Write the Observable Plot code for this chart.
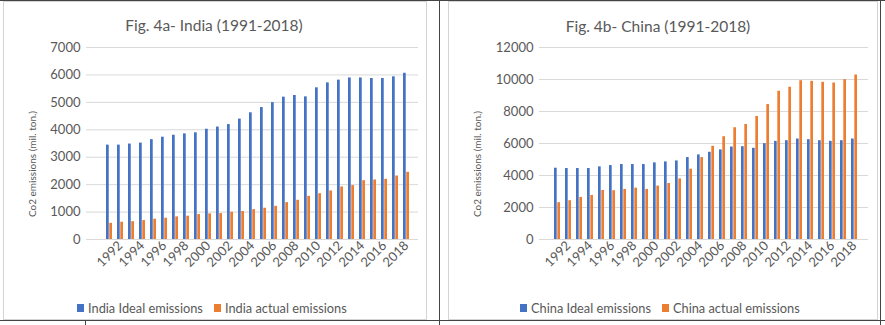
<!DOCTYPE html>
<html><head><meta charset="utf-8">
<script src="https://cdn.jsdelivr.net/npm/d3@7"></script>
<script src="https://cdn.jsdelivr.net/npm/@observablehq/plot@0.6"></script>
<style>
body{margin:0;background:#fff;font-family:Lato,sans-serif;}
#wrap{position:relative;width:885px;height:325px;overflow:hidden;background:#fff}
.panel{position:absolute;border:1px solid #d4d4d4;box-sizing:border-box}
.title{position:absolute;font-size:15.5px;color:#595959;line-height:18px;white-space:nowrap;transform:translateX(-50%)}
.ylab{position:absolute;font-size:10px;color:#595959;white-space:nowrap;transform:translate(-50%,-50%) rotate(-90deg)}
.legend{position:absolute;font-size:12.8px;color:#595959;white-space:nowrap;display:flex;align-items:center;line-height:16px}
.sw{display:inline-block;width:7px;height:8px;margin-right:4px}
.item{display:flex;align-items:center;margin-right:11px}
.dark{position:absolute;background:#444}
</style></head>
<body><div id="wrap"></div>
<script>
const years = [1991,1992,1993,1994,1995,1996,1997,1998,1999,2000,2001,2002,2003,2004,2005,2006,2007,2008,2009,2010,2011,2012,2013,2014,2015,2016,2017,2018];
const xTickLabels = [1992,1994,1996,1998,2000,2002,2004,2006,2008,2010,2012,2014,2016,2018];
const indiaIdeal = [3440,3440,3480,3515,3640,3730,3800,3850,3890,4020,4100,4190,4390,4620,4810,4990,5190,5250,5200,5530,5710,5810,5890,5890,5870,5870,5930,6060];
const indiaActual = [590,630,650,690,740,775,825,850,910,935,945,995,1020,1090,1140,1210,1345,1430,1575,1670,1770,1915,1965,2145,2170,2195,2315,2450];
const chinaIdeal = [4456,4435,4435,4435,4540,4620,4685,4685,4685,4790,4850,4910,5120,5285,5450,5600,5780,5800,5700,5990,6135,6175,6280,6240,6175,6135,6175,6280];
const chinaActual = [2300,2425,2630,2755,3065,3050,3130,3210,3130,3340,3500,3790,4395,5120,5825,6425,6985,7190,7690,8435,9265,9515,9925,9885,9825,9780,9990,10280];
const indiaTicks = [0,1000,2000,3000,4000,5000,6000,7000];
const chinaTicks = [0,2000,4000,6000,8000,10000,12000];
const seriesColors = ["#4472C4", "#ED7D31"];

const wrap = document.getElementById("wrap");
function add(html){ wrap.insertAdjacentHTML("beforeend", html); }

function panel({ideal, actual, yTicks, width, marginLeft, marginRight, xRange}) {
  const data = years.map((y, i) => ({year: y, ideal: ideal[i], actual: actual[i]}));
  const pad = 0.42;
  const bw = d3.scaleBand(years, xRange).padding(pad).bandwidth();
  return Plot.plot({
    width, height: 250, marginTop: 11, marginBottom: 47, marginLeft, marginRight,
    style: {fontFamily: "Lato, sans-serif", color: "#595959", background: "transparent", overflow: "visible"},
    x: {type: "band", domain: years, range: xRange, padding: pad, axis: null},
    y: {domain: [0, yTicks[yTicks.length - 1]], axis: null},
    marks: [
      Plot.ruleY(yTicks, {stroke: "#d9d9d9", strokeWidth: 1}),
      Plot.barY(data, {x: "year", y: "ideal", fill: seriesColors[0], insetLeft: 0, insetRight: bw / 2}),
      Plot.barY(data, {x: "year", y: "actual", fill: seriesColors[1], insetLeft: bw / 2, insetRight: 0}),
      Plot.axisX(xTickLabels, {tickRotate: -45, tickSize: 0, tickPadding: 4, fontSize: 13, fill: "#595959", label: null, tickFormat: d => String(d)}),
      Plot.axisY(yTicks, {tickSize: 0, tickPadding: 6, fontSize: 13, fill: "#595959", label: null, tickFormat: d => String(d)})
    ]
  });
}

// frame lines
add('<div class="dark" style="left:0;top:0;width:885px;height:1px"></div>');
add('<div class="dark" style="left:439px;top:0;width:1px;height:325px"></div>');
add('<div class="dark" style="left:0;top:320px;width:885px;height:1px"></div>');
add('<div class="dark" style="left:85px;top:320px;width:1px;height:5px"></div>');
add('<div class="dark" style="left:880px;top:0;width:1px;height:325px"></div>');
add('<div class="panel" style="left:3px;top:1px;width:424px;height:319px"></div>');
add('<div class="panel" style="left:448px;top:1px;width:430px;height:319px"></div>');

// left panel
const c1 = panel({ideal: indiaIdeal, actual: indiaActual, yTicks: indiaTicks, width: 423, marginLeft: 83, marginRight: 8, xRange: [94.8, 415.2]});
c1.style.position = "absolute"; c1.style.left = "3px"; c1.style.top = "36px";
wrap.appendChild(c1);
add('<div class="title" style="left:214px;top:16px">Fig. 4a- India (1991-2018)</div>');
add('<div class="ylab" style="left:32px;top:164px">Co2 emissions (mil. ton.)</div>');
add('<div class="legend" style="left:77px;top:300px"><span class="item"><span class="sw" style="background:' + seriesColors[0] + '"></span>India Ideal emissions</span><span class="item"><span class="sw" style="background:' + seriesColors[1] + '"></span>India actual emissions</span></div>');

// right panel
const c2 = panel({ideal: chinaIdeal, actual: chinaActual, yTicks: chinaTicks, width: 429, marginLeft: 91, marginRight: 9, xRange: [95, 420.5]});
c2.style.position = "absolute"; c2.style.left = "448px"; c2.style.top = "36px";
wrap.appendChild(c2);
add('<div class="title" style="left:658px;top:17px">Fig. 4b- China (1991-2018)</div>');
add('<div class="ylab" style="left:477px;top:164px">Co2 emissions (mil. ton.)</div>');
add('<div class="legend" style="left:520px;top:300px"><span class="item"><span class="sw" style="background:' + seriesColors[0] + '"></span>China Ideal emissions</span><span class="item"><span class="sw" style="background:' + seriesColors[1] + '"></span>China actual emissions</span></div>');
</script></body></html>
